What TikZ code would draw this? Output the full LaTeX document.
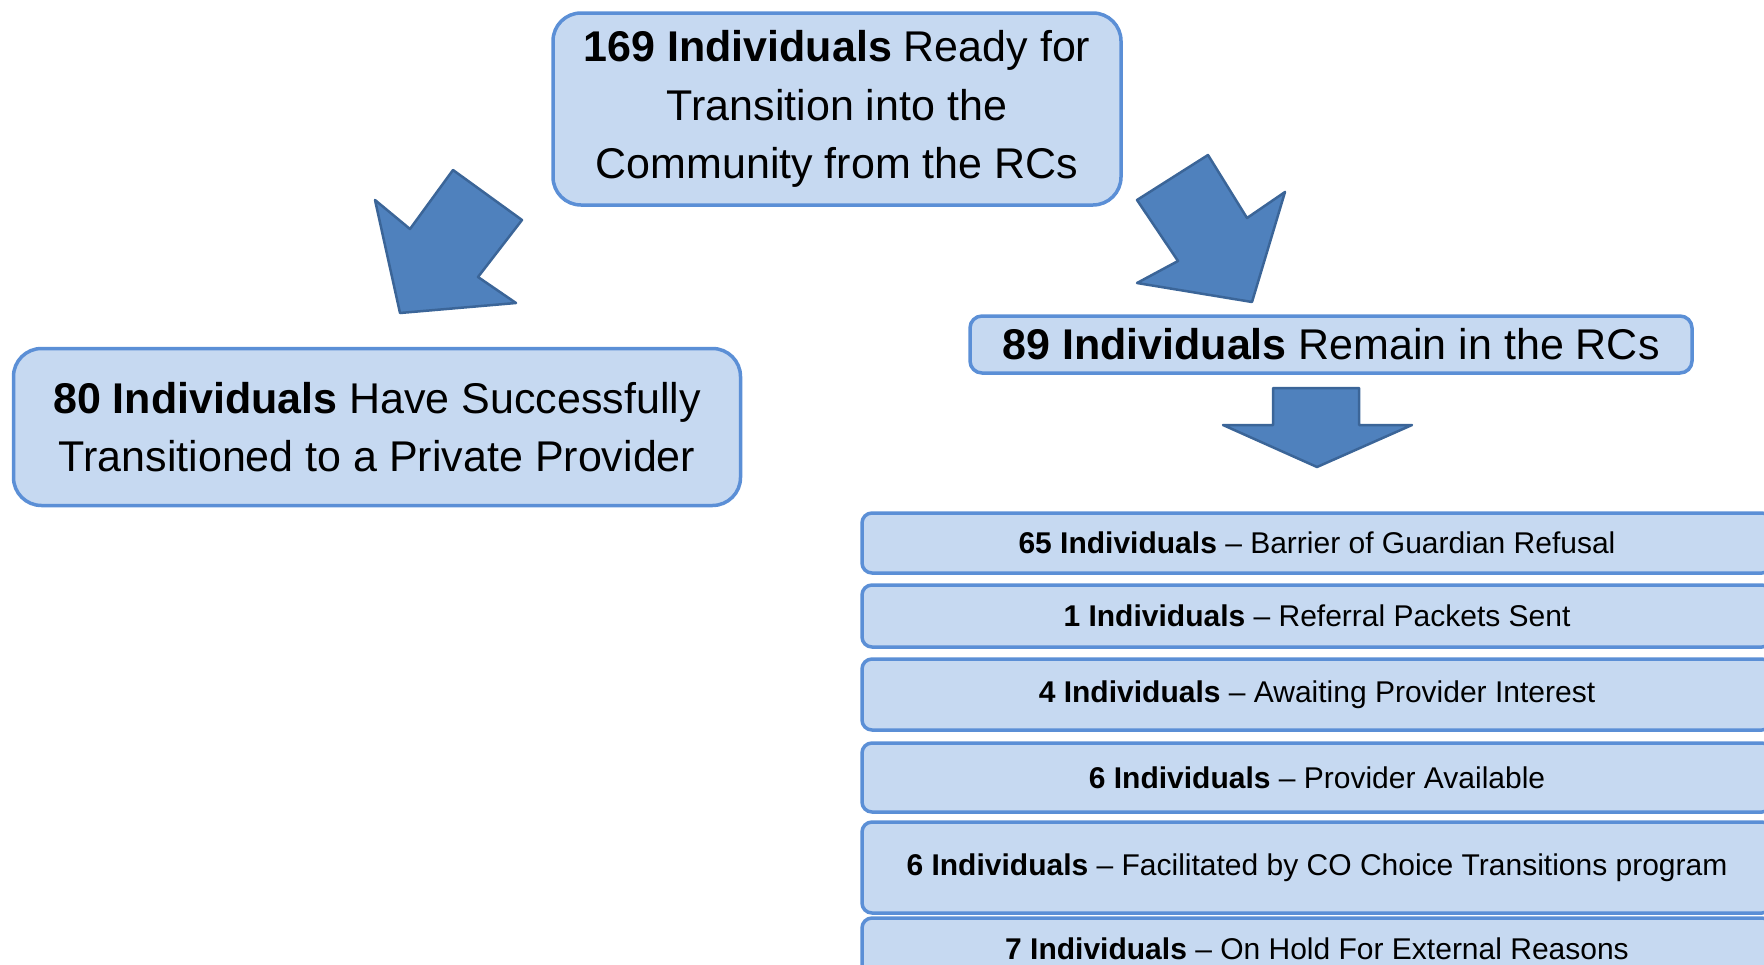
\documentclass[tikz,border=0pt]{standalone}
\usepackage{fontspec}
\setmainfont{Liberation Sans}
\usepackage{xcolor}
\usepackage{tikz}
\usetikzlibrary{positioning}
\definecolor{boxfill}{HTML}{C6D9F1}
\definecolor{boxline}{HTML}{5B8FD6}
\definecolor{arrowfill}{HTML}{4F81BD}
\definecolor{arrowline}{HTML}{3B6598}
\newcommand{\bigtxt}{\fontsize{43}{58.5}\selectfont}
\newcommand{\rowtxt}{\fontsize{30}{36}\selectfont}

\begin{document}
\begin{tikzpicture}[x=1pt,y=-1pt,
  bigbox/.style={draw=boxline,fill=boxfill,line width=3.5pt,rounded corners=28pt,align=center,inner sep=0pt,font=\bigtxt},
  rowbox/.style={draw=boxline,fill=boxfill,line width=3.5pt,rounded corners=10pt,inner sep=0pt,minimum width=910pt,font=\rowtxt},
  blockarrow/.style={fill=arrowfill,draw=arrowline,line width=2.5pt,line join=round}]
\useasboundingbox (0,0) rectangle (1764,964);
\clip (0,0) rectangle (1764,964);
% top box and the two branches
\node[bigbox,minimum width=568pt,minimum height=192pt] (ready) at (837,109)
  {\textbf{169 Individuals} Ready for\\Transition into the\\Community from the RCs};
\node[bigbox,minimum width=727pt,minimum height=157pt] (moved) at (377,427)
  {\textbf{80 Individuals} Have Successfully\\Transitioned to a Private Provider};
\node[bigbox,rounded corners=12pt,minimum width=722pt,minimum height=57pt] (remain) at (1331,344.5)
  {\textbf{89 Individuals} Remain in the RCs};
% block arrows
\draw[blockarrow] (400,313) -- (516,303) -- (478,277) -- (522,220) -- (453,170) -- (410,229) -- (375,200) -- cycle;
\draw[blockarrow] (1137,200) -- (1208,155) -- (1247,218) -- (1285,192) -- (1252,302) -- (1137,283) -- (1178,261) -- cycle;
\draw[blockarrow] (1273,388) -- (1359,388) -- (1359,425) -- (1412,425) -- (1317,467) -- (1223,425) -- (1273,425) -- cycle;
% reasons
\foreach \n/\y/\h/\num/\why in {
  1/543/60/65/Barrier of Guardian Refusal,
  2/616/62/1/Referral Packets Sent,
  3/694.5/71/4/Awaiting Provider Interest,
  4/777.5/69/6/Provider Available,
  5/867.5/91/6/Facilitated by CO Choice Transitions program,
  6/949/62/7/On Hold For External Reasons}
{
  \node[rowbox,minimum height=\h pt] (row\n) at (1317,\y) {\textbf{\num\ Individuals} – \why};
}
\end{tikzpicture}
\end{document}
